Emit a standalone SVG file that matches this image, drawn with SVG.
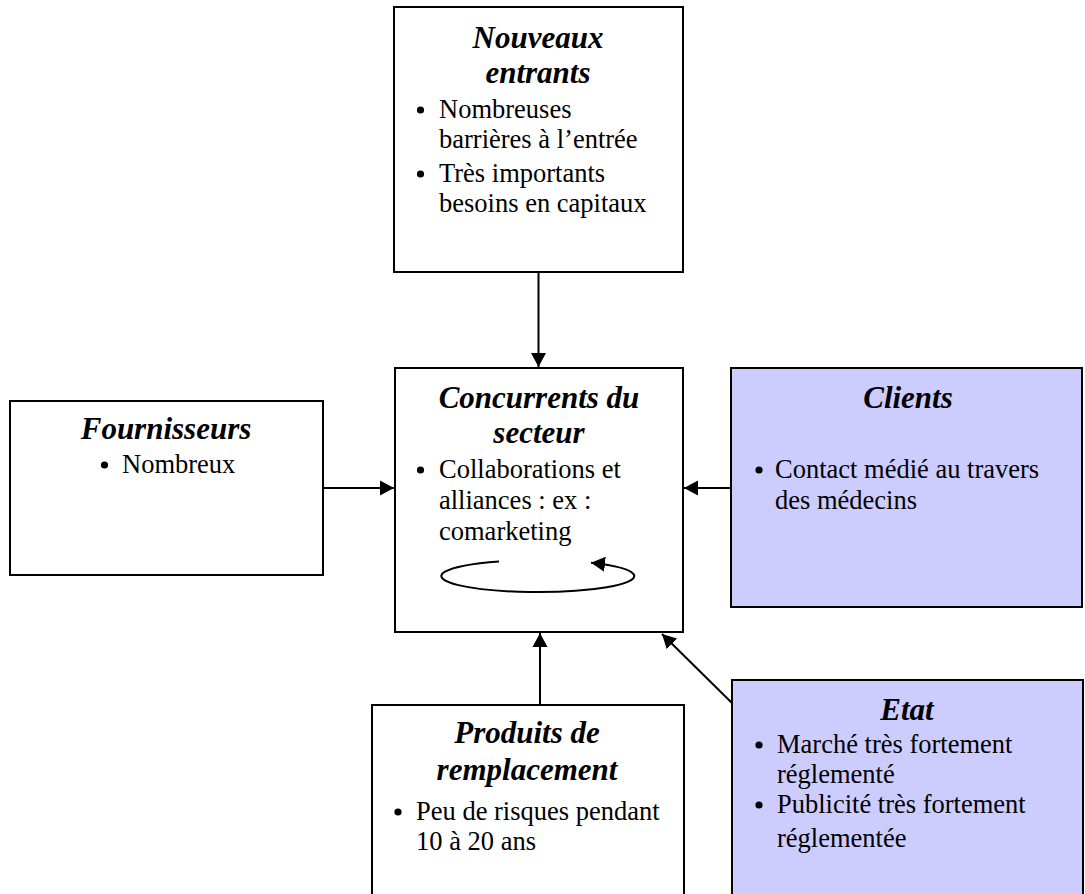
<svg xmlns="http://www.w3.org/2000/svg" width="1085" height="894" viewBox="0 0 1085 894">
<style>
.box{stroke:#000;stroke-width:2;fill:#fff}
.blue{fill:#CCCCFF}
.t{font-family:"Liberation Serif","Times New Roman",serif;font-size:31px;font-weight:bold;font-style:italic;text-anchor:middle;fill:#000}
.b{font-family:"Liberation Serif","Times New Roman",serif;font-size:26.5px;fill:#000}
.c{stroke:#000;stroke-width:2;fill:none}
.dot{fill:#000}
</style>
<defs>
<marker id="ah" markerUnits="userSpaceOnUse" markerWidth="16" markerHeight="16" refX="14" refY="8" orient="auto">
<path d="M0,0.5 L14,8 L0,15.5 z" fill="#000"/>
</marker>
</defs>
<rect width="1085" height="894" fill="#fff"/>
<g id="connectors">
<path class="c" d="M538.5,272 L538.5,367" marker-end="url(#ah)"/>
<path class="c" d="M323,488 L394,488" marker-end="url(#ah)"/>
<path class="c" d="M731,488 L684,488" marker-end="url(#ah)"/>
<path class="c" d="M540,705 L540,633" marker-end="url(#ah)"/>
<path class="c" d="M732,703 L662,634" marker-end="url(#ah)"/>
</g>
<g id="nouveaux">
<rect class="box" x="394" y="7" width="289" height="265"/>
<text class="t" x="538" y="48">Nouveaux</text>
<text class="t" x="538" y="83">entrants</text>
<circle class="dot" cx="420.5" cy="110" r="3.6"/><text class="b" x="439" y="118">Nombreuses</text>
<text class="b" x="439" y="148">barrières à l’entrée</text>
<circle class="dot" cx="420.5" cy="174" r="3.6"/><text class="b" x="439" y="182">Très importants</text>
<text class="b" x="439" y="212">besoins en capitaux</text>
</g>
<g id="concurrents">
<rect class="box" x="395" y="368" width="288" height="264"/>
<text class="t" x="539" y="408">Concurrents du</text>
<text class="t" x="539" y="443">secteur</text>
<circle class="dot" cx="420.5" cy="470" r="3.6"/><text class="b" x="439" y="478">Collaborations et</text>
<text class="b" x="439" y="509">alliances : ex :</text>
<text class="b" x="439" y="540">comarketing</text>
<path class="c" d="M499,561.4 A96.5,16 0 1 0 591,562.7" marker-end="url(#ah)"/>
</g>
<g id="fournisseurs">
<rect class="box" x="10" y="401" width="313" height="174"/>
<text class="t" x="166" y="439">Fournisseurs</text>
<circle class="dot" cx="104.5" cy="465" r="3.6"/><text class="b" x="122" y="473">Nombreux</text>
</g>
<g id="clients">
<rect class="box blue" x="731" y="368" width="351" height="239"/>
<text class="t" x="908" y="408">Clients</text>
<circle class="dot" cx="759" cy="470" r="3.6"/><text class="b" x="775" y="478">Contact médié au travers</text>
<text class="b" x="775" y="509">des médecins</text>
</g>
<g id="produits">
<rect class="box" x="372" y="705" width="312" height="200"/>
<text class="t" x="527" y="743">Produits de</text>
<text class="t" x="527" y="780">remplacement</text>
<circle class="dot" cx="398" cy="812" r="3.6"/><text class="b" x="416" y="820">Peu de risques pendant</text>
<text class="b" x="416" y="850">10 à 20 ans</text>
</g>
<g id="etat">
<rect class="box blue" x="732" y="680" width="351" height="225"/>
<text class="t" x="907" y="720">Etat</text>
<circle class="dot" cx="759" cy="745" r="3.6"/><text class="b" x="777" y="753">Marché très fortement</text>
<text class="b" x="777" y="783">réglementé</text>
<circle class="dot" cx="759" cy="805" r="3.6"/><text class="b" x="777" y="813">Publicité très fortement</text>
<text class="b" x="777" y="847">réglementée</text>
</g>
</svg>
